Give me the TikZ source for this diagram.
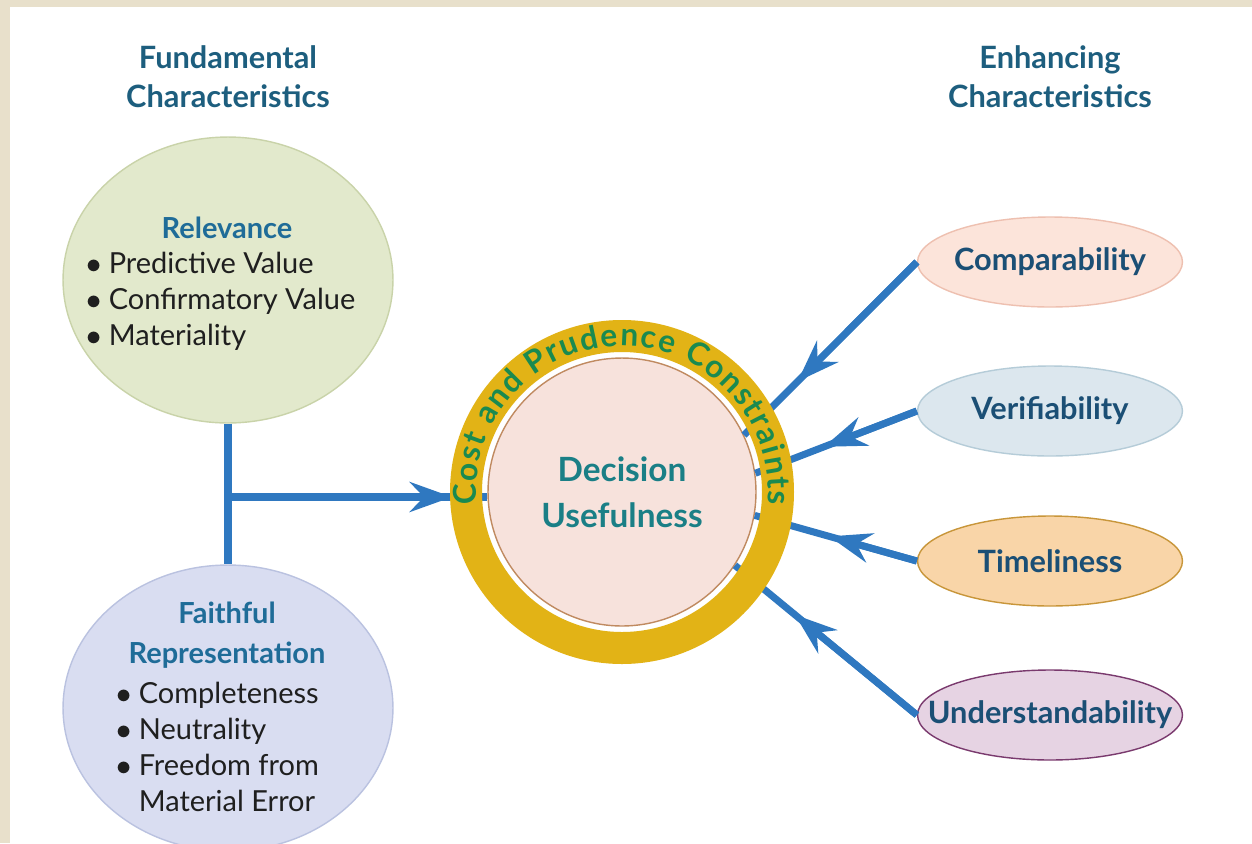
\documentclass[tikz,border=0pt]{standalone}
\usepackage{fontspec}
\setmainfont{Lato}
\usetikzlibrary{shapes.geometric,arrows.meta,decorations.text,calc}
\definecolor{bgbeige}{HTML}{E8E0CB}
\definecolor{headblue}{HTML}{1D5E7E}
\definecolor{relblue}{HTML}{1F6C98}
\definecolor{labblue}{HTML}{1B4F75}
\definecolor{linkblue}{HTML}{2F78C0}
\definecolor{ringgold}{HTML}{E2B316}
\definecolor{ringgreen}{HTML}{1A8A50}
\definecolor{decteal}{HTML}{1A7F86}
\definecolor{relfill}{HTML}{E2E9CC}
\definecolor{reldraw}{HTML}{C9D3A9}
\definecolor{faifill}{HTML}{D9DDF1}
\definecolor{faidraw}{HTML}{BAC2E0}
\definecolor{decfill}{HTML}{F7E2DC}
\definecolor{decdraw}{HTML}{C08A60}
\definecolor{comfill}{HTML}{FCE4DA}
\definecolor{comdraw}{HTML}{EEC0B0}
\definecolor{verfill}{HTML}{DCE7EE}
\definecolor{verdraw}{HTML}{B5CCD8}
\definecolor{timfill}{HTML}{F9D5A8}
\definecolor{timdraw}{HTML}{C8963A}
\definecolor{undfill}{HTML}{E6D3E3}
\definecolor{unddraw}{HTML}{7A3A6E}
\begin{document}
\begin{tikzpicture}[x=0.02cm,y=0.02cm,
  heading/.style={font=\fontsize{17.5}{22}\selectfont\bfseries, text=headblue, align=center},
  bigell/.style={ellipse, draw, line width=0.8pt, minimum width=6.6cm, minimum height=5.72cm, inner sep=0pt},
  smallell/.style={ellipse, draw, line width=0.8pt, minimum width=5.3cm, minimum height=1.8cm, inner sep=0pt},
  smalllab/.style={font=\fontsize{17.5}{20}\selectfont\bfseries, text=labblue, inner sep=0pt},
  link/.style={line width=4pt, color=linkblue},
  linkarrow/.style={link, -{Stealth[length=24pt,width=17pt,inset=8pt]}},
  bullets/.style={font=\fontsize{16.5}{20.5}\selectfont, text=black!88, align=left, anchor=north west}
]
% background
\fill[bgbeige] (0,0) rectangle (1252,-843);
\fill[white] (10,-7) rectangle (1252,-843);
\useasboundingbox (0,0) rectangle (1252,-843);

% headings
\node[heading] (hfund) at (228,-77) {Fundamental\\Characteristics};
\node[heading] (henh) at (1050,-77) {Enhancing\\Characteristics};

% left ellipses
\node[bigell, fill=relfill, draw=reldraw] (rel) at (228,-280) {};
\node[bigell, fill=faifill, draw=faidraw] (fai) at (228,-708) {};

\node[font=\fontsize{16.5}{20}\selectfont\bfseries, text=relblue] (reltitle) at (227,-228) {Relevance};
\node[bullets] (rellist) at (80,-246) {$\bullet$ Predictive Value\\$\bullet$ Confirmatory Value\\$\bullet$ Materiality};

\node[font=\fontsize{16.5}{23}\selectfont\bfseries, text=relblue, align=center] (faititle) at (227,-635) {Faithful\\Representation};
\node[bullets] (failist) at (110,-676) {$\bullet$ Completeness\\$\bullet$ Neutrality\\$\bullet$ Freedom from\\\phantom{$\bullet$ }Material Error};

% central circle
\coordinate (cc) at (622,-492);
\node[circle, fill=decfill, draw=decdraw, line width=0.8pt, minimum size=5.36cm, inner sep=0pt,
      font=\fontsize{19}{26}\selectfont\bfseries, text=decteal, align=center] (dec) at (cc) {Decision\\Usefulness};

% right ellipses
\node[smallell, fill=comfill, draw=comdraw] (com) at (1050,-262) {};
\node[smallell, fill=verfill, draw=verdraw] (ver) at (1050,-411) {};
\node[smallell, fill=timfill, draw=timdraw] (tim) at (1050,-561) {};
\node[smallell, fill=undfill, draw=unddraw] (und) at (1050,-715) {};
\node[smalllab] (comlab) at (com.center) {Comparability};
\node[smalllab] (verlab) at (ver.center) {Verifiability};
\node[smalllab] (timlab) at (tim.center) {Timeliness};
\node[smalllab] (undlab) at (und.center) {Understandability};

% left connectors
\draw[link] (rel.south) -- (fai.north);
\coordinate (j) at (228,-497);
\coordinate (htip) at (452,-497);
\draw[link] (j) -- (j -| dec.west);
\draw[linkarrow] (j) -- (htip);

% right connectors
\path (com.west) -- (dec.25) coordinate[pos=0.69] (ctip);
\draw[link] (com.west) -- (dec.25);
\draw[linkarrow] (com.west) -- (ctip);
\path (ver.west) -- (dec.8) coordinate[pos=0.575] (vtip);
\draw[link] (ver.west) -- (dec.8);
\draw[linkarrow] (ver.west) -- (vtip);
\path (tim.west) -- (dec.-10) coordinate[pos=0.54] (ttip);
\draw[link] (tim.west) -- (dec.-10);
\draw[linkarrow] (tim.west) -- (ttip);
\path (und.west) -- (dec.-33) coordinate[pos=0.67] (utip);
\draw[link] (und.west) -- (dec.-33);
\draw[linkarrow] (und.west) -- (utip);

% ring
\fill[ringgold, even odd rule] (cc) circle[radius=172] (cc) circle[radius=140];
\path[decorate, decoration={text along path, text align={fit to path},
   text={|\fontsize{18}{20}\selectfont\bfseries\color{ringgreen}|Cost and Prudence Constraints}}]
   ($(cc)+(185:146)$) arc[start angle=185, end angle=-5, radius=146];
\end{tikzpicture}
\end{document}
